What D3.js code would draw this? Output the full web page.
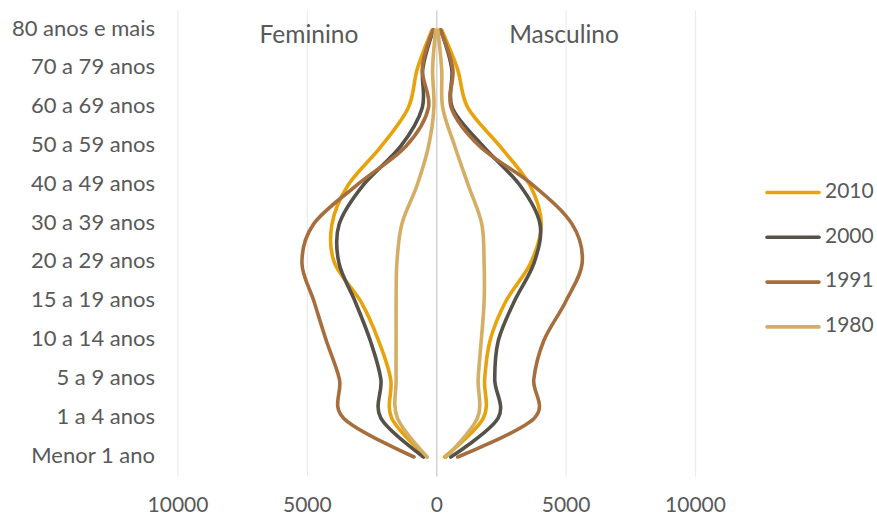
<!DOCTYPE html>
<html>
<head>
<meta charset="utf-8">
<script src="https://cdn.jsdelivr.net/npm/d3@7"></script>
<style>
  html, body { margin: 0; padding: 0; background: #fff; }
  svg { display: block; font-family: Lato, "Open Sans", sans-serif; }
</style>
</head>
<body>
<svg id="chart" width="877" height="520"></svg>
<script>
// Age groups, bottom to top
const categories = [
  "Menor 1 ano", "1 a 4 anos", "5 a 9 anos", "10 a 14 anos", "15 a 19 anos",
  "20 a 29 anos", "30 a 39 anos", "40 a 49 anos", "50 a 59 anos",
  "60 a 69 anos", "70 a 79 anos", "80 anos e mais"
];

const years = ["2010", "2000", "1991", "1980"];

// Female population per age group
const fem2010 = [380, 1740, 1780, 2250, 2930, 3950, 4050, 3430, 2150, 1100, 750, 180];
const fem2000 = [510, 2160, 2160, 2570, 3150, 3780, 3770, 2850, 1400, 560, 540, 130];
const fem1991 = [880, 3600, 3760, 4270, 4740, 5210, 4760, 3100, 1200, 320, 560, 150];
const fem1980 = [370, 1520, 1570, 1570, 1570, 1540, 1350, 760, 320, 110, 160, 40];

// Male population per age group
const masc2010 = [300, 1800, 1850, 2060, 2660, 3630, 4040, 3600, 2450, 1200, 800, 190];
const masc2000 = [540, 2370, 2240, 2380, 2990, 3760, 3990, 3215, 1800, 600, 580, 150];
const masc1991 = [810, 3770, 3750, 4140, 4980, 5620, 5230, 3730, 1670, 560, 620, 140];
const masc1980 = [360, 1570, 1600, 1720, 1830, 1830, 1740, 1220, 700, 230, 190, 40];

const xTicks = [-10000, -5000, 0, 5000, 10000];

const colors = { "2010": "#E8A30C", "2000": "#56524A", "1991": "#A66E3D", "1980": "#D4AE64" };
const female = { "2010": fem2010, "2000": fem2000, "1991": fem1991, "1980": fem1980 };
const male = { "2010": masc2010, "2000": masc2000, "1991": masc1991, "1980": masc1980 };

const svg = d3.select("#chart");
const textColor = "#595959";

const x = d3.scaleLinear().domain([-10000, 10000]).range([178, 695.5]);
const y = d3.scaleLinear().domain([-0.5, categories.length - 0.5]).range([476.4, 10.6]);

// Vertical gridlines
svg.append("g").selectAll("line")
  .data(xTicks)
  .join("line")
  .attr("x1", d => x(d)).attr("x2", d => x(d))
  .attr("y1", y.range()[1]).attr("y2", y.range()[0])
  .attr("stroke", d => d === 0 ? "#d4d4d4" : "#ebebeb")
  .attr("stroke-width", d => d === 0 ? 1.6 : 1.2);

// X axis tick labels (absolute values)
svg.append("g").selectAll("text")
  .data(xTicks)
  .join("text")
  .attr("x", d => x(d))
  .attr("y", 507)
  .attr("text-anchor", "middle")
  .attr("dominant-baseline", "middle")
  .attr("fill", textColor)
  .attr("font-size", 21)
  .text(d => Math.abs(d));

// Category labels
svg.append("g").selectAll("text")
  .data(categories)
  .join("text")
  .attr("x", 155)
  .attr("y", (d, i) => y(i))
  .attr("text-anchor", "end")
  .attr("dominant-baseline", "middle")
  .attr("fill", textColor)
  .attr("font-size", 22)
  .text(d => d);

// Side titles
svg.append("text")
  .attr("x", 309).attr("y", 37)
  .attr("text-anchor", "middle").attr("dominant-baseline", "middle")
  .attr("fill", textColor).attr("font-size", 24.5)
  .text("Feminino");
svg.append("text")
  .attr("x", 564).attr("y", 37)
  .attr("text-anchor", "middle").attr("dominant-baseline", "middle")
  .attr("fill", textColor).attr("font-size", 24.5)
  .text("Masculino");

// Smoothed population profiles
const line = d3.line()
  .x(d => x(d.v))
  .y(d => y(d.i))
  .curve(d3.curveCatmullRom.alpha(0));

const lines = svg.append("g").attr("fill", "none")
  .attr("stroke-width", 3.6)
  .attr("stroke-linecap", "round")
  .attr("stroke-linejoin", "round");

years.forEach(yr => {
  lines.append("path")
    .datum(female[yr].map((v, i) => ({ v: -v, i })))
    .attr("stroke", colors[yr])
    .attr("d", line);
  lines.append("path")
    .datum(male[yr].map((v, i) => ({ v, i })))
    .attr("stroke", colors[yr])
    .attr("d", line);
});

// Legend
const legend = svg.append("g");
years.forEach((yr, k) => {
  const ly = 192.5 + k * 44.8;
  legend.append("line")
    .attr("x1", 767).attr("x2", 819)
    .attr("y1", ly).attr("y2", ly)
    .attr("stroke", colors[yr])
    .attr("stroke-width", 3.6)
    .attr("stroke-linecap", "round");
  legend.append("text")
    .attr("x", 825).attr("y", ly)
    .attr("dominant-baseline", "middle")
    .attr("fill", textColor)
    .attr("font-size", 21)
    .text(yr);
});
</script>
</body>
</html>
